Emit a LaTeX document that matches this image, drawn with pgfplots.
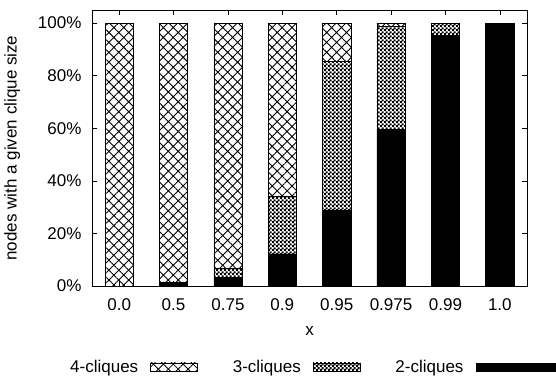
\documentclass[border=0pt]{standalone}
\usepackage{pgfplots}
\usepackage{pgfplotstable}
\pgfplotsset{compat=1.18}
\usepackage{fontspec}
\setmainfont{Liberation Sans}
\usetikzlibrary{patterns,patterns.meta}

\tikzdeclarepattern{
  name=finechecker,
  type=uncolored,
  bottom left={(0pt,0pt)},
  top right={(4pt,4pt)},
  tile size={(4pt,4pt)},
  code={\fill (0pt,0pt) rectangle (2.4pt,2.4pt); \fill (2pt,2pt) rectangle (4.4pt,4.4pt);}
}

\pgfplotstableread{
x two three four
0 0 0 100
1 1 0.3 98.7
2 3.2 3.5 93.3
3 12.2 22.1 65.7
4 28.9 56.4 14.7
5 59.7 39.2 1.1
6 95.4 4.6 0
7 100 0 0
}\data

\begin{document}
\begin{tikzpicture}
\begin{axis}[
  name=ax,
  scale only axis,
  width=435pt, height=276pt,
  font=\fontsize{17}{20}\selectfont,
  /pgf/number format/assume math mode=true,
  ybar stacked,
  bar width=0.52,
  ymin=0, ymax=105,
  xmin=-0.5, xmax=7.5,
  xtick={0,...,7},
  xticklabels={0.0,0.5,0.75,0.9,0.95,0.975,0.99,1.0},
  ytick={0,20,40,60,80,100},
  yticklabel={\pgfmathprintnumber{\tick}\%},
  yticklabel style={xshift=-7pt},
  xticklabel style={yshift=-9pt},
  xlabel style={yshift=-9pt},
  ylabel style={yshift=11pt},
  tick align=inside,
  major tick length=5pt,
  tick style={black, line width=0.6pt},
  axis line style={line width=0.8pt},
  xlabel={x},
  ylabel={nodes with a given clique size},
  legend plot pos=right,
  legend columns=-1,
  legend style={at={(0,0)}, anchor=west, xshift=-24pt, yshift=-81pt,
    draw=none, fill=none, inner sep=0pt,
    /tikz/column sep=10pt,
    /tikz/every even column/.append style={column sep=33pt},
    font=\fontsize{17}{20}\selectfont},
]
\addplot[forget plot, fill=black, draw=black, line width=0.6pt] table[x=x,y=two] {\data};
\addplot[forget plot, pattern=finechecker, draw=black, line width=0.6pt] table[x=x,y=three] {\data};
\addplot[forget plot, pattern={Hatch[angle=45,distance=7pt,line width=0.9pt]}, draw=black, line width=0.6pt] table[x=x,y=four] {\data};

\addlegendimage{legend image code/.code={\draw[pattern={Hatch[angle=45,distance=7pt,line width=0.8pt]}, draw=black, line width=0.6pt] (0pt,-4pt) rectangle (47pt,4pt);}}
\addlegendentry{4-cliques}
\addlegendimage{legend image code/.code={\draw[pattern=finechecker, draw=black, line width=0.6pt] (0pt,-4pt) rectangle (47pt,4pt);}}
\addlegendentry{3-cliques}
\addlegendimage{legend image code/.code={\draw[fill=black, draw=black] (0pt,-4pt) rectangle (90pt,4pt);}}
\addlegendentry{2-cliques}
\end{axis}
\pgfresetboundingbox
\useasboundingbox ([xshift=-92pt,yshift=-93pt]ax.south west) rectangle ++(556pt,379pt);
\end{tikzpicture}
\end{document}
